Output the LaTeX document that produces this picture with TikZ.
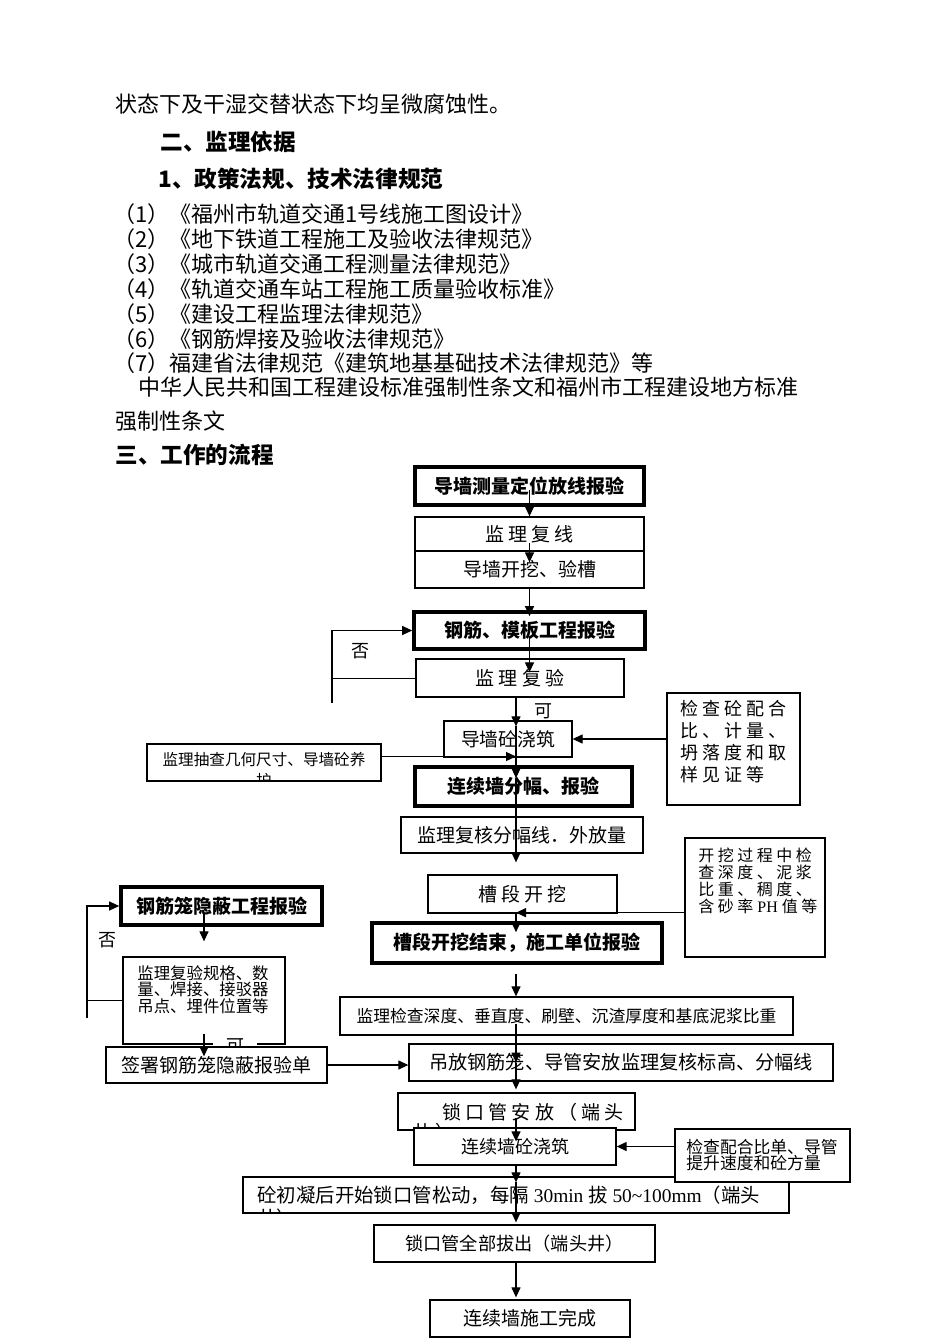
\documentclass[tikz,border=0pt]{standalone}
\usepackage{fontspec}
\setmainfont{Noto Sans CJK SC}
\newfontfamily\cjks[LetterSpace=22]{Noto Sans CJK SC}
\newfontfamily\lat{Liberation Serif}
\usetikzlibrary{arrows.meta}
\newcommand{\fsz}[2]{\fontsize{#1}{#2}\selectfont}
\tikzset{
  box/.style={draw, line width=0.65pt, fill=white, inner sep=0pt},
  bbox/.style={draw, line width=1.8pt, fill=white, inner sep=0pt, font=\bfseries\fsz{9.5pt}{11pt}},
  arr/.style={line width=0.6pt, -{Triangle[length=5pt,width=4.5pt]}},
  txt/.style={anchor=west, inner sep=0pt, font=\fsz{11pt}{13pt}},
  lbl/.style={inner sep=0pt, font=\fsz{9pt}{10pt}},
}
\begin{document}
\begin{tikzpicture}[x=0.5pt, y=-0.5pt]
  \useasboundingbox (0,0) rectangle (950,1344);
  % 正文
  \node[txt] (l1) at (115,104) {状态下及干湿交替状态下均呈微腐蚀性。};
  \node[txt, font=\bfseries\fsz{11.3pt}{13pt}] (h2) at (160,142) {二、监理依据};
  \node[txt, font=\bfseries\fsz{11.3pt}{13pt}] (h3) at (158,179) {1、政策法规、技术法律规范};
  \node[txt] (r1) at (113,214) {（1）《福州市轨道交通1号线施工图设计》};
  \node[txt] (r2) at (113,239) {（2）《地下铁道工程施工及验收法律规范》};
  \node[txt] (r3) at (113,264) {（3）《城市轨道交通工程测量法律规范》};
  \node[txt] (r4) at (113,289) {（4）《轨道交通车站工程施工质量验收标准》};
  \node[txt] (r5) at (113,314) {（5）《建设工程监理法律规范》};
  \node[txt] (r6) at (113,339) {（6）《钢筋焊接及验收法律规范》};
  \node[txt] (r7) at (113,363) {（7）福建省法律规范《建筑地基基础技术法律规范》等};
  \node[txt] (r8) at (138,387) {中华人民共和国工程建设标准强制性条文和福州市工程建设地方标准};
  \node[txt] (r9) at (115,421) {强制性条文};
  \node[txt, font=\bfseries\fsz{11.3pt}{13pt}] (h4) at (115,455) {三、工作的流程};
  % 导墙
  \node[bbox, minimum width=114.5pt, minimum height=19pt] (dq) at (529.5,486) {导墙测量定位放线报验};
  \node[box, minimum width=114.5pt, minimum height=17pt, font=\cjks\fsz{9.5pt}{11pt}] (fx) at (529.5,534) {监理复线};
  \node[box, minimum width=114.5pt, minimum height=18.5pt, font=\fsz{9.5pt}{11pt}] (wk) at (529.5,569.5) {导墙开挖、验槽};
  \node[bbox, minimum width=115.5pt, minimum height=18.5pt] (gm) at (529.5,630.5) {钢筋、模板工程报验};
  \node[box, minimum width=104pt, minimum height=19pt, font=\cjks\fsz{9.5pt}{11pt}] (fy) at (520,678) {监理复验};
  \node[box, minimum width=64pt, minimum height=18pt, font=\fsz{9.4pt}{11pt}] (jz) at (508,739) {导墙砼浇筑};
  \node[box, minimum width=117pt, minimum height=18.5pt] (cc) at (264,762.5) {};
  \begin{scope}
    \clip (cc.south west) rectangle (cc.north east);
    \node[lbl, align=center, font=\fsz{7.8pt}{10.5pt}] (cc-t) at (264,770.5) {监理抽查几何尺寸、导墙砼养\\护};
  \end{scope}
  \node[box, minimum width=66.5pt, minimum height=56pt] (jc) at (733.5,749) {};
  \node[lbl, anchor=north west, align=left, font=\cjks\fsz{9pt}{11pt}] (jc-t) at (680,700) {检查砼配合\\比、计量、\\坍落度和取\\样见证等};
  % 连续墙
  \node[bbox, minimum width=108.5pt, minimum height=19.5pt] (fb) at (523.5,786.5) {连续墙分幅、报验};
  \node[box, minimum width=121pt, minimum height=18pt, font=\fsz{9.5pt}{11pt}] (fh) at (522,835) {监理复核分幅线．外放量};
  \node[box, minimum width=94.5pt, minimum height=19pt, font=\cjks\fsz{9.5pt}{11pt}] (cd) at (522.5,894) {槽段开挖};
  \node[box, minimum width=70pt, minimum height=59.5pt] (kg) at (755,897.5) {};
  \node[lbl, anchor=north west, align=left, font=\cjks\fsz{8pt}{8.5pt}] (kg-t) at (698,848) {开挖过程中检\\查深度、泥浆\\比重、稠度、\\含砂率{\lat\ PH }值等};
  \node[bbox, minimum width=145pt, minimum height=20pt] (cj) at (517,943) {槽段开挖结束，施工单位报验};
  \node[box, minimum width=226.5pt, minimum height=19pt, font=\fsz{8.4pt}{10pt}] (jj) at (566.5,1016) {监理检查深度、垂直度、刷壁、沉渣厚度和基底泥浆比重};
  \node[box, minimum width=212pt, minimum height=18.5pt, font=\fsz{9.6pt}{11pt}] (df) at (621,1062.5) {吊放钢筋笼、导管安放监理复核标高、分幅线};
  \node[box, minimum width=118.5pt, minimum height=18.5pt] (ks) at (516.5,1111.5) {};
  \begin{scope}
    \clip (ks.south west) rectangle (ks.north east);
    \node[lbl, anchor=west, font=\cjks\fsz{9.5pt}{11pt}] (ks-a) at (442,1112) {锁口管安放（端头};
    \node[lbl, anchor=west, font=\cjks\fsz{9.5pt}{11pt}] (ks-b) at (412,1132) {井）};
  \end{scope}
  \node[box, minimum width=101pt, minimum height=18.5pt, font=\fsz{9pt}{11pt}] (lz) at (515,1146.5) {连续墙砼浇筑};
  \node[box, minimum width=273pt, minimum height=18pt] (cn) at (516,1195) {};
  \begin{scope}
    \clip (cn.south west) rectangle (cn.north east);
    \node[lbl, anchor=west, font=\fsz{9.7pt}{11pt}] (cn-a) at (257,1195) {砼初凝后开始锁口管松动，每隔{\lat\ 30min }拔{\lat\ 50\textasciitilde100mm}（端头};
    \node[lbl, anchor=west, font=\fsz{9.7pt}{11pt}] (cn-b) at (257,1218) {井）};
  \end{scope}
  \node[box, minimum width=87.5pt, minimum height=26.5pt] (jp) at (762.5,1155.5) {};
  \node[lbl, anchor=north west, align=left, font=\fsz{8.4pt}{8pt}] (jp-t) at (686,1139) {检查配合比单、导管\\提升速度和砼方量};
  \node[box, minimum width=140.5pt, minimum height=18.5pt, font=\fsz{9.1pt}{11pt}] (kb) at (514.5,1243.5) {锁口管全部拔出（端头井）};
  \node[box, minimum width=100pt, minimum height=18.5pt, font=\fsz{9.5pt}{11pt}] (wc) at (530,1318.5) {连续墙施工完成};
  % 钢筋笼
  \node[bbox, minimum width=100.5pt, minimum height=19pt] (gl) at (221.5,906) {钢筋笼隐蔽工程报验};
  \node[box, minimum width=81pt, minimum height=43.5pt] (fl) at (204,1000.5) {};
  \node[lbl, anchor=north west, align=left, font=\fsz{8.2pt}{8.3pt}] (fl-t) at (137,965) {监理复验规格、数\\量、焊接、接驳器\\吊点、埋件位置等};
  \node[lbl, fill=white, minimum width=22pt, minimum height=10pt] (k2) at (235,1046) {可};
  \node[box, minimum width=110.5pt, minimum height=18pt, font=\fsz{9.5pt}{11pt}] (qs) at (216.5,1065) {签署钢筋笼隐蔽报验单};
  \node[lbl] (n1) at (360,651) {否};
  \node[lbl] (k1) at (543,711) {可};
  \node[lbl] (n2) at (107,940) {否};
  \coordinate (ax) at (516,0);
  \coordinate (fb1) at (332,703);
  \coordinate (fb2) at (87,1018);
  % 箭头
  \draw[arr] ([yshift=-2pt]dq.center) -- (fx.north);
  \draw[arr] ([yshift=-4.5pt]fx.center) -- ([yshift=-6pt]wk.north);
  \draw[arr] (wk.south) -- ([yshift=-3pt]gm.north);
  \draw[arr] ([yshift=-3pt]gm.center) -- ([yshift=-7pt]gm.center |- fy.north);
  \draw[arr] (fb1) |- (gm.west);
  \draw (fy.west) -- (fy.west -| fb1);
  \draw[arr] (ax |- fy.south) -- ([yshift=-3pt]ax |- jz.north);
  \draw[arr] ([yshift=-3pt]ax |- jz.north) -- ([yshift=-6.5pt]ax |- fb.north);
  \draw[arr] ([yshift=-6.5pt]ax |- fb.north) -- ([yshift=6pt]ax |- cd.north);
  \draw[arr] (jc.west |- jz.east) -- (jz.east);
  \draw[arr] ([yshift=3pt]cc.east) -- ([yshift=3pt]ax |- cc.east);
  \draw[arr] ([yshift=0.5pt]kg.west |- cd.south) -- ([yshift=0.5pt]ax |- cd.south);
  \draw[arr] ([yshift=0.5pt]ax |- cd.south) -- ([yshift=-5.5pt]ax |- cj.north);
  \draw[arr] ([yshift=-4.5pt]ax |- cj.south) -- (ax |- jj.north);
  \draw[arr] ([yshift=6pt]ax |- jj.south) -- (ax |- df.center);
  \draw[arr] (ax |- df.center) -- ([yshift=1.5pt]ax |- ks.north);
  \draw[arr] ([yshift=6.5pt]ax |- ks.south) -- ([yshift=-7pt]ax |- lz.north);
  \draw[arr] (jp.west |- lz.east) -- (lz.east);
  \draw[arr] (ax |- lz.south) -- ([yshift=-3pt]ax |- cn.north);
  \draw[arr] ([yshift=-3pt]ax |- cn.north) -- ([yshift=1pt]ax |- kb.north);
  \draw[arr] (ax |- kb.south) -- ([yshift=1pt]ax |- wc.north);
  \draw[arr] (fb2) |- (gl.west);
  \draw (fl.west) -- (fl.west -| fb2);
  \draw[arr] ([yshift=-3.5pt]fl.north |- gl.center) -- ([yshift=7.5pt]fl.north);
  \draw[arr] ([yshift=5.5pt]fl.south) -- ([yshift=-5pt]fl.south |- qs.north);
  \draw[arr] (qs.east) -- (qs.east -| df.west);
\end{tikzpicture}
\end{document}
